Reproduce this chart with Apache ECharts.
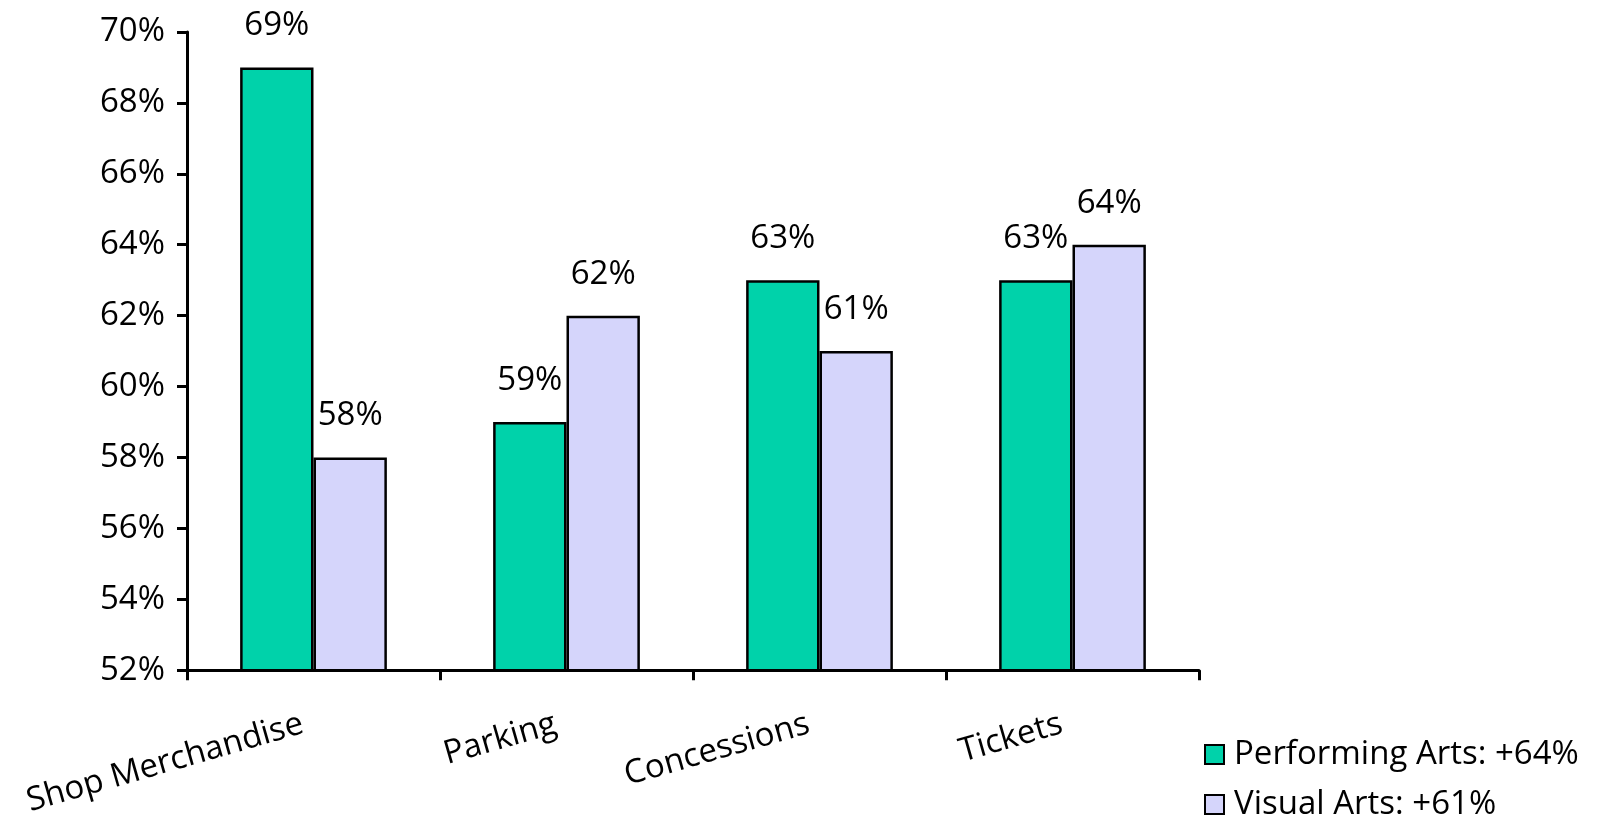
<!DOCTYPE html>
<html>
<head>
<meta charset="utf-8">
<script src="https://cdn.jsdelivr.net/npm/echarts@6/dist/echarts.min.js"></script>
<style>
  html, body { margin: 0; padding: 0; background: #fff; }
  #chart { width: 1614px; height: 819px; }
</style>
</head>
<body>
<div id="chart"></div>
<script>
// chart data
const categories = ['Shop Merchandise', 'Parking', 'Concessions', 'Tickets']
const performingArts = [69, 59, 63, 63]
const visualArts = [58, 62, 61, 64]
const seriesNames = ['Performing Arts: +64%', 'Visual Arts: +61%']
const yMin = 52
const yMax = 70
const yStep = 2

const FONT = '"Open Sans", "Noto Sans", sans-serif'
const FS = 33
const chart = echarts.init(document.getElementById('chart'))

const labelStyle = {
  show: true,
  position: 'top',
  distance: 25,
  formatter: '{c}%',
  color: '#000',
  fontSize: FS,
  fontFamily: FONT
}

chart.setOption({
  animation: false,
  textStyle: { fontFamily: FONT },
  legend: {
    orient: 'vertical',
    left: 1199,
    top: 733,
    height: 140,
    itemWidth: 19,
    itemHeight: 19,
    itemGap: 17,
    icon: 'rect',
    textStyle: { fontSize: FS, color: '#000', fontFamily: FONT, padding: [0, 0, 0, 5] },
    data: seriesNames
  },
  grid: {
    left: 187,
    right: 415,
    top: 32,
    bottom: 148,
    containLabel: false
  },
  xAxis: {
    type: 'category',
    data: categories,
    axisLine: { lineStyle: { color: '#000', width: 3 } },
    axisTick: { show: true, length: 10, lineStyle: { color: '#000', width: 3 } },
    axisLabel: {
      rotate: 16,
      margin: 33,
      color: '#000',
      fontSize: FS,
      fontFamily: FONT,
      align: 'right',
      verticalAlign: 'top',
      padding: [0, 16, 0, 0]
    }
  },
  yAxis: {
    type: 'value',
    min: yMin,
    max: yMax,
    interval: yStep,
    splitLine: { show: false },
    axisLine: { show: true, lineStyle: { color: '#000', width: 3 } },
    axisTick: { show: true, length: 10, lineStyle: { color: '#000', width: 3 } },
    axisLabel: {
      formatter: '{value}%',
      margin: 22,
      color: '#000',
      fontSize: FS,
      fontFamily: FONT
    }
  },
  series: [
    {
      name: seriesNames[0],
      type: 'bar',
      data: performingArts,
      barGap: '0%',
      barCategoryGap: '42%',
      itemStyle: { color: '#00D2AA', borderColor: '#000', borderWidth: 2.5 },
      label: labelStyle
    },
    {
      name: seriesNames[1],
      type: 'bar',
      data: visualArts,
      itemStyle: { color: '#D5D5FB', borderColor: '#000', borderWidth: 2.5 },
      label: labelStyle
    }
  ]
})
</script>
</body>
</html>
